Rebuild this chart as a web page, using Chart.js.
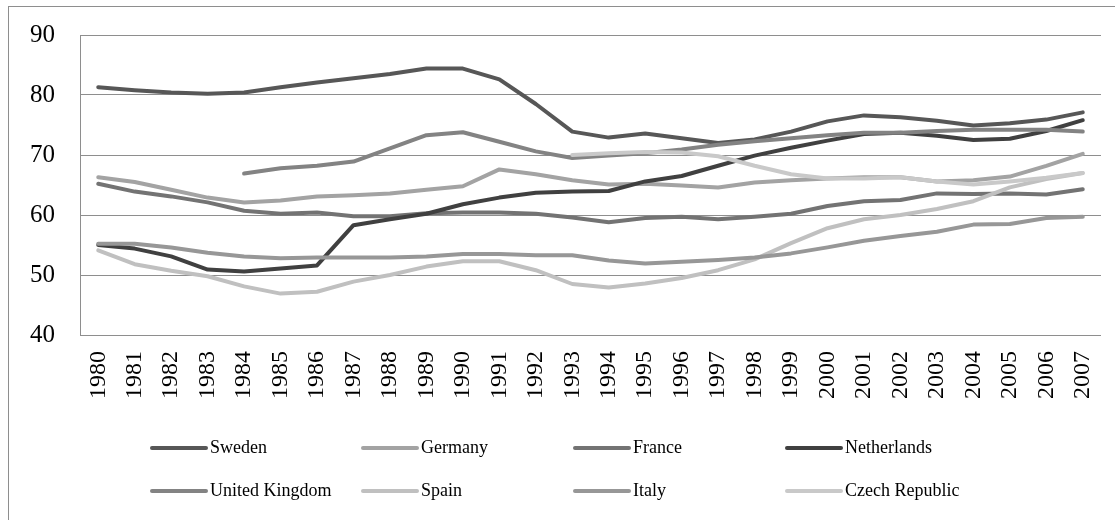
<!DOCTYPE html>
<html>
<head>
<meta charset="utf-8">
<script src="https://cdn.jsdelivr.net/npm/chart.js@4.4.1/dist/chart.umd.min.js"></script>
<style>
  html, body { margin: 0; padding: 0; background: #ffffff; }
  canvas { display: block; }
</style>
</head>
<body>
<canvas id="chart" width="1115" height="520"></canvas>
<script>
// Employment rate (%), 1980-2007
const years = ['1980','1981','1982','1983','1984','1985','1986','1987','1988','1989',
  '1990','1991','1992','1993','1994','1995','1996','1997','1998','1999',
  '2000','2001','2002','2003','2004','2005','2006','2007'];

const sweden = [81.3, 80.8, 80.4, 80.2, 80.4, 81.3, 82.1, 82.8, 83.5, 84.4,
  84.4, 82.6, 78.5, 73.9, 72.9, 73.6, 72.8, 72.0, 72.6, 73.9,
  75.6, 76.6, 76.3, 75.7, 74.9, 75.3, 75.9, 77.1];
const germany = [66.3, 65.5, 64.2, 62.9, 62.1, 62.4, 63.1, 63.3, 63.6, 64.2,
  64.8, 67.6, 66.8, 65.8, 65.1, 65.2, 64.9, 64.6, 65.4, 65.8,
  66.1, 66.3, 66.3, 65.6, 65.8, 66.4, 68.2, 70.2];
const france = [65.2, 63.9, 63.1, 62.1, 60.7, 60.2, 60.4, 59.8, 59.8, 60.3,
  60.4, 60.4, 60.2, 59.6, 58.8, 59.5, 59.7, 59.3, 59.7, 60.2,
  61.5, 62.3, 62.5, 63.6, 63.5, 63.6, 63.4, 64.3];
const netherlands = [55.0, 54.4, 53.1, 50.9, 50.6, 51.1, 51.6, 58.3, 59.3, 60.2,
  61.8, 62.9, 63.7, 63.9, 64.0, 65.6, 66.5, 68.2, 69.9, 71.2,
  72.4, 73.5, 73.7, 73.2, 72.5, 72.7, 74.0, 75.8];
const unitedKingdom = [null, null, null, null, 66.9, 67.8, 68.2, 68.9, 71.1, 73.3,
  73.8, 72.2, 70.6, 69.5, 69.9, 70.3, 70.9, 71.7, 72.3, 72.8,
  73.3, 73.7, 73.7, 74.0, 74.2, 74.2, 74.2, 73.9];
const spain = [54.1, 51.8, 50.7, 49.8, 48.1, 46.9, 47.2, 48.9, 50.0, 51.4,
  52.3, 52.3, 50.8, 48.5, 47.9, 48.6, 49.5, 50.8, 52.6, 55.3,
  57.8, 59.3, 60.0, 61.0, 62.3, 64.6, 66.0, 67.0];
const italy = [55.2, 55.2, 54.6, 53.7, 53.1, 52.8, 52.9, 52.9, 52.9, 53.1,
  53.5, 53.5, 53.3, 53.3, 52.4, 51.9, 52.2, 52.5, 52.9, 53.6,
  54.6, 55.7, 56.5, 57.2, 58.4, 58.5, 59.5, 59.7];
const czechRepublic = [null, null, null, null, null, null, null, null, null, null,
  null, null, null, 70.0, 70.3, 70.5, 70.4, 69.8, 68.2, 66.8,
  66.1, 66.1, 66.3, 65.6, 65.1, 65.6, 66.2, 67.0];

const seriesNames = ['Sweden', 'Germany', 'France', 'Netherlands',
  'United Kingdom', 'Spain', 'Italy', 'Czech Republic'];
const seriesValues = [sweden, germany, france, netherlands,
  unitedKingdom, spain, italy, czechRepublic];
const seriesColors = ['#575757', '#a3a3a3', '#737373', '#404040',
  '#838383', '#c0c0c0', '#979797', '#c9c9c9'];

const yTicks = { min: 40, max: 90, step: 10 };

const SERIF = '"Liberation Serif", "DejaVu Serif", serif';
const GRID = '#8e8e8e';

// Thin frame around the whole figure
const framePlugin = {
  id: 'frame',
  beforeDraw(chart) {
    const ctx = chart.ctx;
    ctx.save();
    ctx.strokeStyle = GRID;
    ctx.lineWidth = 1;
    ctx.strokeRect(8.5, 6.5, 1300, 700);
    ctx.restore();
  }
};

// Two-row, four-column legend below the axis labels
const gridLegendPlugin = {
  id: 'gridLegend',
  afterDraw(chart) {
    const ctx = chart.ctx;
    const colX = [150, 361, 573, 785];
    const rowY = [448, 491];
    ctx.save();
    ctx.font = '18px ' + SERIF;
    ctx.textBaseline = 'middle';
    ctx.textAlign = 'left';
    chart.data.datasets.forEach((ds, i) => {
      const x = colX[i % 4];
      const y = rowY[Math.floor(i / 4)];
      ctx.strokeStyle = ds.borderColor;
      ctx.lineWidth = 4;
      ctx.lineCap = 'round';
      ctx.beginPath();
      ctx.moveTo(x + 2, y);
      ctx.lineTo(x + 56, y);
      ctx.stroke();
      ctx.fillStyle = '#000000';
      ctx.fillText(ds.label, x + 60, y);
    });
    ctx.restore();
  }
};

const datasets = seriesNames.map((name, i) => ({
  label: name,
  data: seriesValues[i],
  borderColor: seriesColors[i],
  backgroundColor: seriesColors[i],
  borderWidth: 4,
  borderCapStyle: 'round',
  borderJoinStyle: 'round',
  pointRadius: 0,
  pointHoverRadius: 0,
  tension: 0,
  fill: false,
  spanGaps: false,
  order: -i
}));

new Chart(document.getElementById('chart'), {
  type: 'line',
  data: { labels: years, datasets },
  options: {
    responsive: false,
    animation: false,
    devicePixelRatio: 1,
    events: [],
    layout: { padding: { top: 35, right: 14, left: 0, bottom: 0 } },
    plugins: {
      legend: { display: false },
      tooltip: { enabled: false },
      title: { display: false }
    },
    scales: {
      x: {
        type: 'category',
        offset: true,
        grid: { display: false },
        border: { display: false },
        ticks: {
          autoSkip: false,
          minRotation: 90,
          maxRotation: 90,
          padding: 8,
          color: '#000000',
          font: { family: SERIF, size: 24 }
        },
        afterFit(scale) {
          scale.height = 185;
          scale.paddingLeft = 0;
          scale.paddingRight = 0;
        }
      },
      y: {
        min: yTicks.min,
        max: yTicks.max,
        ticks: {
          stepSize: yTicks.step,
          padding: 25,
          color: '#000000',
          font: { family: SERIF, size: 25 }
        },
        grid: { color: GRID, lineWidth: 1, drawTicks: false },
        border: { display: true, color: GRID, width: 1 },
        afterFit(scale) {
          scale.width = 80;
          scale.paddingTop = 0;
          scale.paddingBottom = 0;
        }
      }
    }
  },
  plugins: [framePlugin, gridLegendPlugin]
});
</script>
</body>
</html>
